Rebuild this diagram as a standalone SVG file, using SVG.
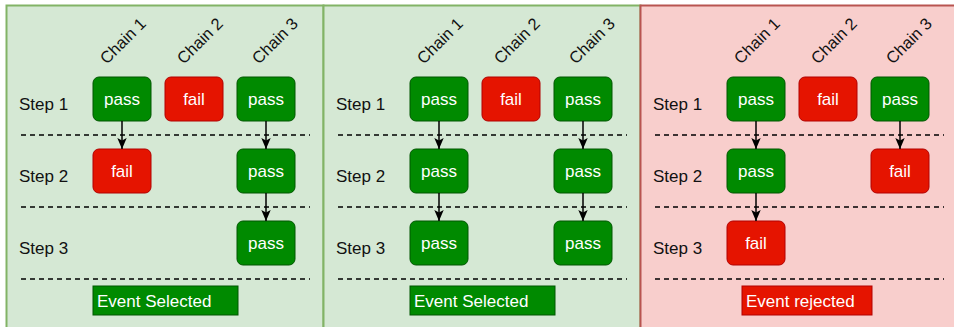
<svg xmlns="http://www.w3.org/2000/svg" width="954" height="327" viewBox="0 0 954 327">
<defs>
<style>
.t{font-family:"Liberation Sans",Arial,Helvetica,sans-serif;}
.pg{fill:#d5e8d4;stroke:#82b366;stroke-width:2;}
.pr{fill:#f8cecc;stroke:#b85450;stroke-width:2;}
.ok{fill:#008a00;stroke:#005700;stroke-width:1;}
.ko{fill:#e51400;stroke:#b20000;stroke-width:1;}
.bt{font-size:17px;fill:#ffffff;text-anchor:middle;}
.st{font-size:17px;fill:#111111;}
.ev{font-size:17px;fill:#ffffff;}
.dl{stroke:#000000;stroke-width:1.5;stroke-dasharray:5 4;fill:none;}
.ar{stroke:#000000;stroke-width:1.5;fill:none;marker-end:url(#ah);}
</style>
<marker id="ah" markerUnits="userSpaceOnUse" markerWidth="12" markerHeight="10" refX="11" refY="4.7" orient="auto" viewBox="0 0 12 10">
<path d="M0,0 L11,4.7 L0,9.4 L2.5,4.7 Z" fill="#000000"/>
</marker>
</defs>

<g id="panel1">
<rect class="pg" x="6.5" y="5.5" width="317" height="330"/>
</g>
<g id="panel2">
<rect class="pg" x="323.5" y="5.5" width="317" height="330"/>
</g>
<g id="panel3">
<rect class="pr" x="640.5" y="5.5" width="317" height="330"/>
</g>

<g id="labels" font-family="Liberation Sans, Arial, sans-serif" fill="#111111">
<g transform="translate(123 41) rotate(-45)"><text x="0" y="5.5" font-size="16.5" text-anchor="middle">Chain 1</text></g>
<g transform="translate(200 41) rotate(-45)"><text x="0" y="5.5" font-size="16.5" text-anchor="middle">Chain 2</text></g>
<g transform="translate(275 41) rotate(-45)"><text x="0" y="5.5" font-size="16.5" text-anchor="middle">Chain 3</text></g>
<g transform="translate(440 41) rotate(-45)"><text x="0" y="5.5" font-size="16.5" text-anchor="middle">Chain 1</text></g>
<g transform="translate(517 41) rotate(-45)"><text x="0" y="5.5" font-size="16.5" text-anchor="middle">Chain 2</text></g>
<g transform="translate(592 41) rotate(-45)"><text x="0" y="5.5" font-size="16.5" text-anchor="middle">Chain 3</text></g>
<g transform="translate(757 41) rotate(-45)"><text x="0" y="5.5" font-size="16.5" text-anchor="middle">Chain 1</text></g>
<g transform="translate(834 41) rotate(-45)"><text x="0" y="5.5" font-size="16.5" text-anchor="middle">Chain 2</text></g>
<g transform="translate(909 41) rotate(-45)"><text x="0" y="5.5" font-size="16.5" text-anchor="middle">Chain 3</text></g>
<text class="t st" x="19" y="110">Step 1</text>
<text class="t st" x="19" y="182">Step 2</text>
<text class="t st" x="19" y="254">Step 3</text>
<text class="t st" x="336" y="110">Step 1</text>
<text class="t st" x="336" y="182">Step 2</text>
<text class="t st" x="336" y="254">Step 3</text>
<text class="t st" x="653" y="110">Step 1</text>
<text class="t st" x="653" y="182">Step 2</text>
<text class="t st" x="653" y="254">Step 3</text>
</g>

<g id="separators">
<line class="dl" x1="21" y1="135" x2="310" y2="135"/>
<line class="dl" x1="21" y1="207" x2="310" y2="207"/>
<line class="dl" x1="21" y1="279" x2="310" y2="279"/>
<line class="dl" x1="338" y1="135" x2="627" y2="135"/>
<line class="dl" x1="338" y1="207" x2="627" y2="207"/>
<line class="dl" x1="338" y1="279" x2="627" y2="279"/>
<line class="dl" x1="655" y1="135" x2="944" y2="135"/>
<line class="dl" x1="655" y1="207" x2="944" y2="207"/>
<line class="dl" x1="655" y1="279" x2="944" y2="279"/>
</g>

<g id="p1-s1-c1"><rect class="ok" x="93" y="77" width="58" height="44" rx="6"/><text class="t bt" x="122" y="105">pass</text></g>
<g id="p1-s1-c2"><rect class="ko" x="165" y="77" width="58" height="44" rx="6"/><text class="t bt" x="194" y="105">fail</text></g>
<g id="p1-s1-c3"><rect class="ok" x="237" y="77" width="58" height="44" rx="6"/><text class="t bt" x="266" y="105">pass</text></g>
<g id="p1-s2-c1"><rect class="ko" x="93" y="149" width="58" height="44" rx="6"/><text class="t bt" x="122" y="177">fail</text></g>
<g id="p1-s2-c3"><rect class="ok" x="237" y="149" width="58" height="44" rx="6"/><text class="t bt" x="266" y="177">pass</text></g>
<g id="p1-s3-c3"><rect class="ok" x="237" y="221" width="58" height="44" rx="6"/><text class="t bt" x="266" y="249">pass</text></g>
<g id="p1-result"><rect class="ok" x="93" y="286" width="145" height="29"/><text class="t ev" x="97" y="307">Event Selected</text></g>

<g id="p2-s1-c1"><rect class="ok" x="410" y="77" width="58" height="44" rx="6"/><text class="t bt" x="439" y="105">pass</text></g>
<g id="p2-s1-c2"><rect class="ko" x="482" y="77" width="58" height="44" rx="6"/><text class="t bt" x="511" y="105">fail</text></g>
<g id="p2-s1-c3"><rect class="ok" x="554" y="77" width="58" height="44" rx="6"/><text class="t bt" x="583" y="105">pass</text></g>
<g id="p2-s2-c1"><rect class="ok" x="410" y="149" width="58" height="44" rx="6"/><text class="t bt" x="439" y="177">pass</text></g>
<g id="p2-s2-c3"><rect class="ok" x="554" y="149" width="58" height="44" rx="6"/><text class="t bt" x="583" y="177">pass</text></g>
<g id="p2-s3-c1"><rect class="ok" x="410" y="221" width="58" height="44" rx="6"/><text class="t bt" x="439" y="249">pass</text></g>
<g id="p2-s3-c3"><rect class="ok" x="554" y="221" width="58" height="44" rx="6"/><text class="t bt" x="583" y="249">pass</text></g>
<g id="p2-result"><rect class="ok" x="410" y="286" width="145" height="29"/><text class="t ev" x="414" y="307">Event Selected</text></g>

<g id="p3-s1-c1"><rect class="ok" x="727" y="77" width="58" height="44" rx="6"/><text class="t bt" x="756" y="105">pass</text></g>
<g id="p3-s1-c2"><rect class="ko" x="799" y="77" width="58" height="44" rx="6"/><text class="t bt" x="828" y="105">fail</text></g>
<g id="p3-s1-c3"><rect class="ok" x="871" y="77" width="58" height="44" rx="6"/><text class="t bt" x="900" y="105">pass</text></g>
<g id="p3-s2-c1"><rect class="ok" x="727" y="149" width="58" height="44" rx="6"/><text class="t bt" x="756" y="177">pass</text></g>
<g id="p3-s2-c3"><rect class="ko" x="871" y="149" width="58" height="44" rx="6"/><text class="t bt" x="900" y="177">fail</text></g>
<g id="p3-s3-c1"><rect class="ko" x="727" y="221" width="58" height="44" rx="6"/><text class="t bt" x="756" y="249">fail</text></g>
<g id="p3-result"><rect class="ko" x="742" y="286" width="130" height="29"/><text class="t ev" x="746" y="307">Event rejected</text></g>

<g id="connectors">
<line class="ar" x1="122" y1="121" x2="122" y2="149"/>
<line class="ar" x1="266" y1="121" x2="266" y2="149"/>
<line class="ar" x1="266" y1="193" x2="266" y2="221"/>
<line class="ar" x1="439" y1="121" x2="439" y2="149"/>
<line class="ar" x1="439" y1="193" x2="439" y2="221"/>
<line class="ar" x1="583" y1="121" x2="583" y2="149"/>
<line class="ar" x1="583" y1="193" x2="583" y2="221"/>
<line class="ar" x1="756" y1="121" x2="756" y2="149"/>
<line class="ar" x1="756" y1="193" x2="756" y2="221"/>
<line class="ar" x1="900" y1="121" x2="900" y2="149"/>
</g>
</svg>
